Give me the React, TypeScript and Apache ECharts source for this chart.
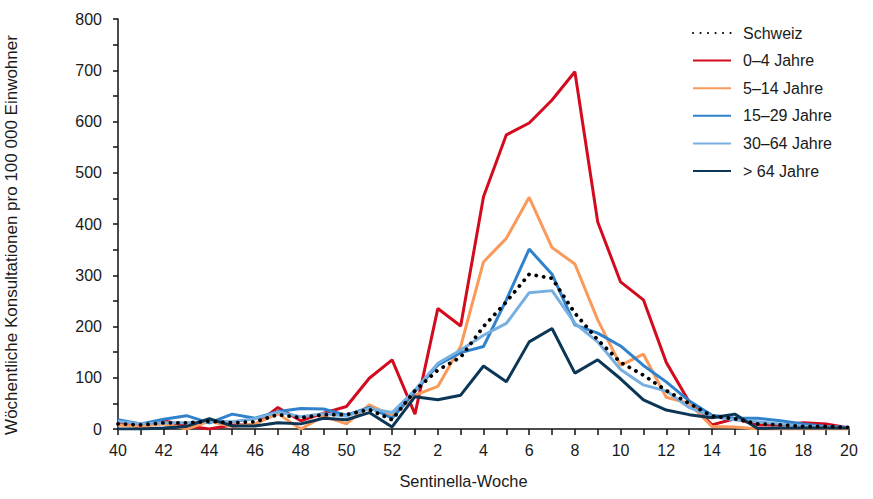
import React, { useEffect, useRef } from "react";
import * as echarts from "echarts";

const weeks = [
  "40", "41", "42", "43", "44", "45", "46", "47", "48", "49", "50", "51", "52",
  "1", "2", "3", "4", "5", "6", "7", "8", "9", "10", "11", "12", "13", "14", "15", "16", "17", "18", "19", "20",
];

const schweiz = [10, 8, 12, 12, 15, 12, 14, 28, 22, 28, 28, 38, 18, 75, 115, 140, 200, 248, 302, 294, 226, 174, 130, 105, 75, 50, 25, 20, 10, 8, 5, 5, 3];
const age0to4 = [12, 4, 16, 6, 0, 8, 8, 42, 16, 31, 44, 99, 135, 29, 235, 201, 453, 574, 597, 642, 697, 404, 287, 252, 130, 53, 8, 20, 8, 8, 12, 10, 2];
const age5to14 = [8, 5, 10, 0, 15, 5, 10, 30, 0, 25, 10, 47, 25, 66, 83, 161, 326, 372, 452, 354, 322, 213, 124, 146, 62, 50, 5, 4, 0, 0, 0, 0, 0];
const age15to29 = [18, 10, 19, 26, 12, 29, 21, 34, 40, 39, 27, 42, 21, 73, 125, 149, 161, 252, 351, 302, 203, 187, 162, 124, 92, 55, 27, 21, 21, 16, 10, 5, 3];
const age30to64 = [15, 10, 12, 12, 15, 14, 20, 33, 24, 30, 25, 40, 32, 76, 128, 154, 183, 206, 266, 270, 206, 170, 116, 86, 74, 42, 24, 18, 14, 10, 6, 4, 3];
const age65plus = [0, 0, 2, 5, 20, 6, 6, 12, 10, 21, 18, 32, 4, 63, 57, 66, 123, 92, 170, 196, 109, 135, 98, 57, 37, 28, 22, 29, 1, 2, 2, 2, 2];

const seriesNames = ["Schweiz", "0–4 Jahre", "5–14 Jahre", "15–29 Jahre", "30–64 Jahre", "> 64 Jahre"];
const seriesColors = ["#000000", "#d20b1e", "#f99a5b", "#2f82cb", "#76afe0", "#0b3656"];

const FONT = '"Liberation Sans", Arial, sans-serif';
const TEXT = "#1a1a1a";

export default function App() {
  const ref = useRef<HTMLDivElement>(null);

  useEffect(() => {
    if (!ref.current) return;
    const chart = echarts.init(ref.current, undefined, { renderer: "svg" });
    const data = [schweiz, age0to4, age5to14, age15to29, age30to64, age65plus];
    const series = seriesNames.map((name, i) => ({
      name,
      type: "line",
      data: data[i],
      symbol: "none",
      z: i === 0 ? 10 : 2 + i,
      lineStyle:
        i === 0
          ? { color: seriesColors[i], width: 3.8, type: [0.1, 7.4], cap: "round" }
          : { color: seriesColors[i], width: 3 },
      itemStyle: { color: seriesColors[i] },
    }));

    chart.setOption({
      animation: false,
      backgroundColor: "#ffffff",
      textStyle: { fontFamily: FONT, color: TEXT },
      grid: { left: 118, right: 24, top: 19, bottom: 70, containLabel: false, outerBoundsMode: "none" },
      legend: {
        orient: "vertical",
        left: 692,
        top: 25,
        padding: 0,
        itemWidth: 38,
        itemHeight: 14,
        itemGap: 11.6,
        data: seriesNames,
        itemStyle: { color: "transparent", borderColor: "transparent", borderWidth: 0, opacity: 0 },
        textStyle: { fontSize: 16, fontFamily: FONT, color: TEXT, padding: [0, 0, 0, 7] },
      },
      xAxis: {
        type: "category",
        data: weeks,
        boundaryGap: false,
        axisLine: { lineStyle: { color: "#111", width: 1.5 } },
        axisTick: { interval: 0, length: 6, lineStyle: { color: "#111", width: 1.5 } },
        axisLabel: { interval: 1, fontSize: 16, color: TEXT, fontFamily: FONT, margin: 13 },
        splitLine: { show: false },
        name: "Sentinella-Woche",
        nameLocation: "middle",
        nameGap: 44,
        nameTextStyle: { fontSize: 16.4, color: TEXT, fontFamily: FONT, padding: [0, 40, 0, 0] },
      },
      yAxis: {
        type: "value",
        min: 0,
        max: 800,
        interval: 100,
        axisLine: { show: true, lineStyle: { color: "#111", width: 1.5 } },
        axisTick: { show: true, length: 5, lineStyle: { color: "#111", width: 1.5 } },
        minorTick: { show: true, splitNumber: 2, length: 5, lineStyle: { color: "#111", width: 1.5 } },
        splitLine: { show: false },
        axisLabel: { fontSize: 16, color: TEXT, fontFamily: FONT, margin: 16 },
        name: "Wöchentliche Konsultationen pro 100 000 Einwohner",
        nameLocation: "middle",
        nameGap: 98,
        nameTextStyle: { fontSize: 17, color: TEXT, fontFamily: FONT, padding: [0, 22, 0, 0] },
      },
      series,
    });

    return () => chart.dispose();
  }, []);

  return (
    <div
      ref={ref}
      style={{ position: "fixed", left: 0, top: 0, width: 873, height: 499 }}
    />
  );
}
